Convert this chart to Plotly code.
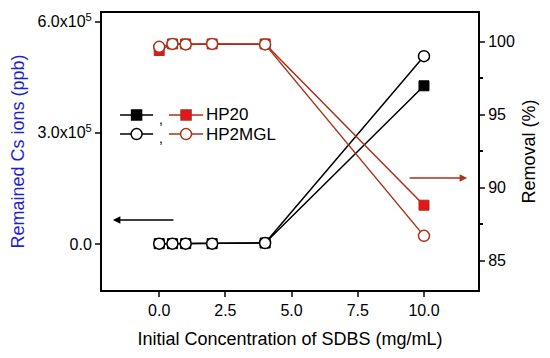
import plotly.graph_objects as go

# Data
sdbs = [0, 0.5, 1, 2, 4, 10]
cs_hp20 = [800, 800, 800, 800, 2500, 4.27e5]
cs_hp2mgl = [800, 800, 800, 800, 2500, 5.07e5]
rem_hp20 = [99.4, 99.85, 99.85, 99.85, 99.85, 88.8]
rem_hp2mgl = [99.65, 99.85, 99.82, 99.85, 99.82, 86.7]

left_ticks = [0, 3e5, 6e5]
left_labels = ["0.0", "3.0x10<sup>5</sup>", "6.0x10<sup>5</sup>"]
right_ticks = [85, 90, 95, 100]
x_ticks = [0, 2.5, 5, 7.5, 10]
x_labels = ["0.0", "2.5", "5.0", "7.5", "10.0"]

BLACK = "#000000"
BROWN = "#a8321a"
RED = "#e8141c"
BLUE = "#1f1fd6"
FONT = "Liberation Sans, Arial, sans-serif"

fig = go.Figure()

# Left axis series (remained Cs)
fig.add_trace(go.Scatter(x=sdbs, y=cs_hp20, mode="lines+markers", showlegend=False,
                         line=dict(color=BLACK, width=1.5),
                         marker=dict(symbol="square", size=10, color=BLACK,
                                     line=dict(color=BLACK, width=1))))
fig.add_trace(go.Scatter(x=sdbs, y=cs_hp2mgl, mode="lines+markers", showlegend=False,
                         line=dict(color=BLACK, width=1.5),
                         marker=dict(symbol="circle", size=11, color="white",
                                     line=dict(color=BLACK, width=1.5))))
# Right axis series (removal)
fig.add_trace(go.Scatter(x=sdbs, y=rem_hp20, mode="lines+markers", showlegend=False,
                         yaxis="y2", line=dict(color=BROWN, width=1.5),
                         marker=dict(symbol="square", size=10, color=RED,
                                     line=dict(color=BROWN, width=1))))
fig.add_trace(go.Scatter(x=sdbs, y=rem_hp2mgl, mode="lines+markers", showlegend=False,
                         yaxis="y2", line=dict(color=BROWN, width=1.5),
                         marker=dict(symbol="circle", size=11, color="white",
                                     line=dict(color=BROWN, width=1.5))))

# Custom legend on an overlay axis (fractions of plot area)
leg_rows = [0.632, 0.563]
seg_x_black = [0.048, 0.136]
seg_x_red = [0.178, 0.269]
for row, sym, fillb, fillr in [(leg_rows[0], "square", BLACK, RED),
                               (leg_rows[1], "circle", "white", "white")]:
    for segx, lc, fc in [(seg_x_black, BLACK, fillb), (seg_x_red, BROWN, fillr)]:
        fig.add_trace(go.Scatter(x=segx, y=[row, row], mode="lines", xaxis="x3", yaxis="y3",
                                 showlegend=False, hoverinfo="skip",
                                 line=dict(color=lc, width=1.5)))
        fig.add_trace(go.Scatter(x=[sum(segx) / 2], y=[row], mode="markers", xaxis="x3",
                                 yaxis="y3", showlegend=False, hoverinfo="skip",
                                 marker=dict(symbol=sym, size=10 if sym == "square" else 11,
                                             color=fc, line=dict(color=lc, width=1.5))))

annotations = []
for row, name in zip(leg_rows, ["HP20", "HP2MGL"]):
    annotations.append(dict(xref="x3", yref="y3", x=0.157, y=row - 0.015, text=",",
                            showarrow=False, font=dict(family=FONT, size=14, color=BLACK)))
    annotations.append(dict(xref="x3", yref="y3", x=0.272, y=row, text=name, xanchor="left",
                            showarrow=False, font=dict(family=FONT, size=17, color=BLACK)))

# Axis pointer arrows
annotations.append(dict(xref="x3", yref="y3", x=0.029, y=0.253, ax=62, ay=0, text="",
                        showarrow=True, arrowhead=2, arrowsize=1, arrowwidth=1.5,
                        arrowcolor=BLACK))
annotations.append(dict(xref="x3", yref="y3", x=0.971, y=0.404, ax=-59, ay=0, text="",
                        showarrow=True, arrowhead=2, arrowsize=1, arrowwidth=1.5,
                        arrowcolor=BROWN))

tickfont = dict(family=FONT, size=16, color=BLACK)
fig.update_layout(
    width=550, height=358,
    margin=dict(l=102, r=72, t=13, b=68),
    paper_bgcolor="white", plot_bgcolor="white",
    font=dict(family=FONT, color=BLACK),
    annotations=annotations,
    xaxis=dict(range=[-2.16, 12.04], tickvals=x_ticks, ticktext=x_labels,
               ticks="outside", ticklen=5, tickwidth=1.5, showgrid=False, zeroline=False,
               showline=True, linecolor=BLACK, linewidth=2, mirror=True,
               tickfont=tickfont,
               title=dict(text="Initial Concentration of SDBS (mg/mL)",
                          font=dict(family=FONT, size=18, color=BLACK), standoff=14)),
    yaxis=dict(range=[-1.243e5, 6.235e5], tickvals=left_ticks, ticktext=left_labels,
               ticks="outside", ticklen=5, tickwidth=1.5, showgrid=False, zeroline=False,
               showline=True, linecolor=BLACK, linewidth=2,
               tickfont=tickfont,
               title=dict(text="Remained Cs ions (ppb)",
                          font=dict(family=FONT, size=18, color=BLUE), standoff=8)),
    yaxis2=dict(range=[82.99, 101.97], tickvals=right_ticks, overlaying="y", side="right",
                ticks="outside", ticklen=5, tickwidth=1.5, showgrid=False, zeroline=False,
                showline=True, linecolor=BLACK, linewidth=2,
                minor=dict(tickvals=[87.5, 92.5, 97.5], ticks="outside", ticklen=3,
                           tickwidth=1.5, tickcolor=BLACK),
                tickfont=tickfont,
                title=dict(text="Removal (%)", font=dict(family=FONT, size=18, color=BLACK),
                           standoff=8)),
    xaxis3=dict(range=[0, 1], overlaying="x", visible=False, fixedrange=True),
    yaxis3=dict(range=[0, 1], overlaying="y", visible=False, fixedrange=True),
)

fig.write_html("out.html", config={"displayModeBar": False},
               post_script="document.body.style.margin='0';")
